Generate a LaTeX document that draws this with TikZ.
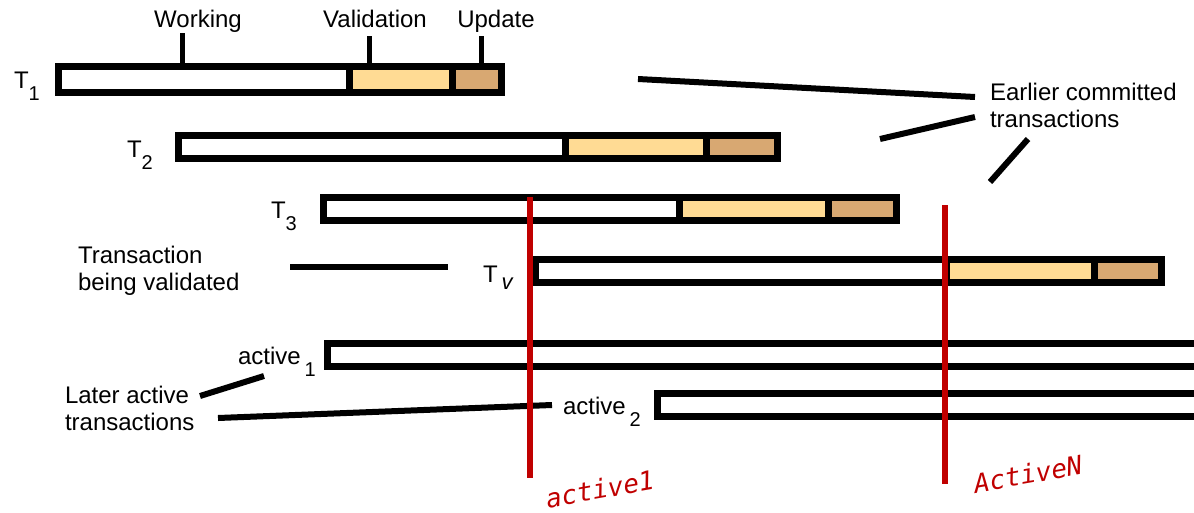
\documentclass[tikz,border=0pt]{standalone}
\usepackage{fontspec}
\setmainfont{Liberation Sans}
\newfontfamily\codefont{DejaVu Sans Mono}

\definecolor{valfill}{HTML}{FFDB94}
\definecolor{updfill}{HTML}{D8A872}
\definecolor{markred}{HTML}{C00000}

% lowered, smaller index after a label
\newcommand\subtx[1]{\raisebox{-12.5pt}{\fontsize{20}{20}\selectfont #1}}

% transaction bar: name, left, right, top, bottom, start of validation, start of update
\newcommand\txbar[7]{%
  \fill[valfill] (#6,#4) rectangle (#7,#5);
  \fill[updfill] (#7,#4) rectangle (#3,#5);
  \draw[barline] (#2,#4) rectangle (#3,#5);
  \draw[barline] (#6,#4) -- (#6,#5) (#7,#4) -- (#7,#5);
  \coordinate (#1) at (#2,#4);
}
% bar of a still-active transaction (working phase only)
\newcommand\actbar[5]{%
  \draw[barline] (#2,#4) rectangle (#3,#5);
  \coordinate (#1) at (#2,#4);
}

\tikzset{
  barline/.style={line width=7pt, line join=miter},
  tickline/.style={line width=5pt},
  conn/.style={line width=6pt},
  redline/.style={markred, line width=5.5pt},
  lbl/.style={inner sep=0pt, outer sep=0pt, font=\fontsize{24}{27}\selectfont},
  redlbl/.style={inner sep=0pt, text=markred, font=\codefont\itshape\fontsize{26}{26}\selectfont, rotate=10},
}

\begin{document}
\begin{tikzpicture}[x=1pt, y=-1pt]
\useasboundingbox (0,0) rectangle (1194,512);

% phase names over the first bar
\node[lbl, anchor=base] (working) at (198,27) {Working};
\node[lbl, anchor=base] (validation) at (375,27) {Validation};
\node[lbl, anchor=base] (update) at (496,27) {Update};

% committed transactions and the one being validated
\txbar{t1}{58.5}{501.5}{66.5}{92.5}{349}{452}
\txbar{t2}{178.5}{777.5}{135.5}{158.5}{565}{706}
\txbar{t3}{323.5}{896.5}{197.5}{220.5}{679}{828}
\txbar{tv}{535.5}{1161.5}{259.5}{282.5}{946}{1094}

% active transactions, running on past the right edge
\actbar{a1}{327.5}{1197}{343.5}{366.5}
\actbar{a2}{657.5}{1197}{393.5}{416.5}

% phase ticks
\draw[tickline] (182,33) -- (182,66);
\draw[tickline] (369,36) -- (369,66);
\draw[tickline] (481,36) -- (481,66);

% bar labels
\node[lbl, anchor=base west] (lt1) at (14,88) {T\subtx{1}};
\node[lbl, anchor=base west] (lt2) at (127,157) {T\subtx{2}};
\node[lbl, anchor=base west] (lt3) at (271,218) {T\subtx{3}};
\node[lbl, anchor=base west] (ltv) at (483,282) {T\,\raisebox{-7pt}{\fontsize{22}{22}\selectfont\textit{v}}};
\node[lbl, anchor=base west] (la1) at (238,364) {active\,\subtx{1}};
\node[lbl, anchor=base west] (la2) at (563,414) {active\,\subtx{2}};

% group captions (anchored on the baseline of their last line)
\node[lbl, anchor=base west, align=left] (earlier) at (990,127) {Earlier committed\\transactions};
\node[lbl, anchor=base west, align=left] (beingval) at (78,290) {Transaction\\being validated};
\node[lbl, anchor=base west, align=left] (later) at (65,430) {Later active\\transactions};

% pointer lines
\coordinate (e1) at (638,79);
\coordinate (e1s) at (975,97);
\coordinate (e2) at (880,139);
\coordinate (e2s) at (975,117);
\coordinate (e3) at (990,182);
\coordinate (e3s) at (1028,139);
\coordinate (v1) at (290,267);
\coordinate (v2) at (448,267);
\coordinate (l1s) at (200,396);
\coordinate (l1) at (264,376);
\coordinate (l2s) at (218,418);
\coordinate (l2) at (552,405);
\draw[conn] (e1) -- (e1s);
\draw[conn] (e2) -- (e2s);
\draw[conn] (e3) -- (e3s);
\draw[conn] (v1) -- (v2);
\draw[conn] (l1s) -- (l1);
\draw[conn] (l2s) -- (l2);

% markers for the validation window
\coordinate (m1top) at (530,197);
\coordinate (m1bot) at (530,478);
\coordinate (mNtop) at (945,205);
\coordinate (mNbot) at (945,484);
\draw[redline] (m1top) -- (m1bot);
\draw[redline] (mNtop) -- (mNbot);
\node[redlbl] (ra1) at (600,489) {active1};
\node[redlbl] (raN) at (1028,474) {ActiveN};
\end{tikzpicture}
\end{document}
